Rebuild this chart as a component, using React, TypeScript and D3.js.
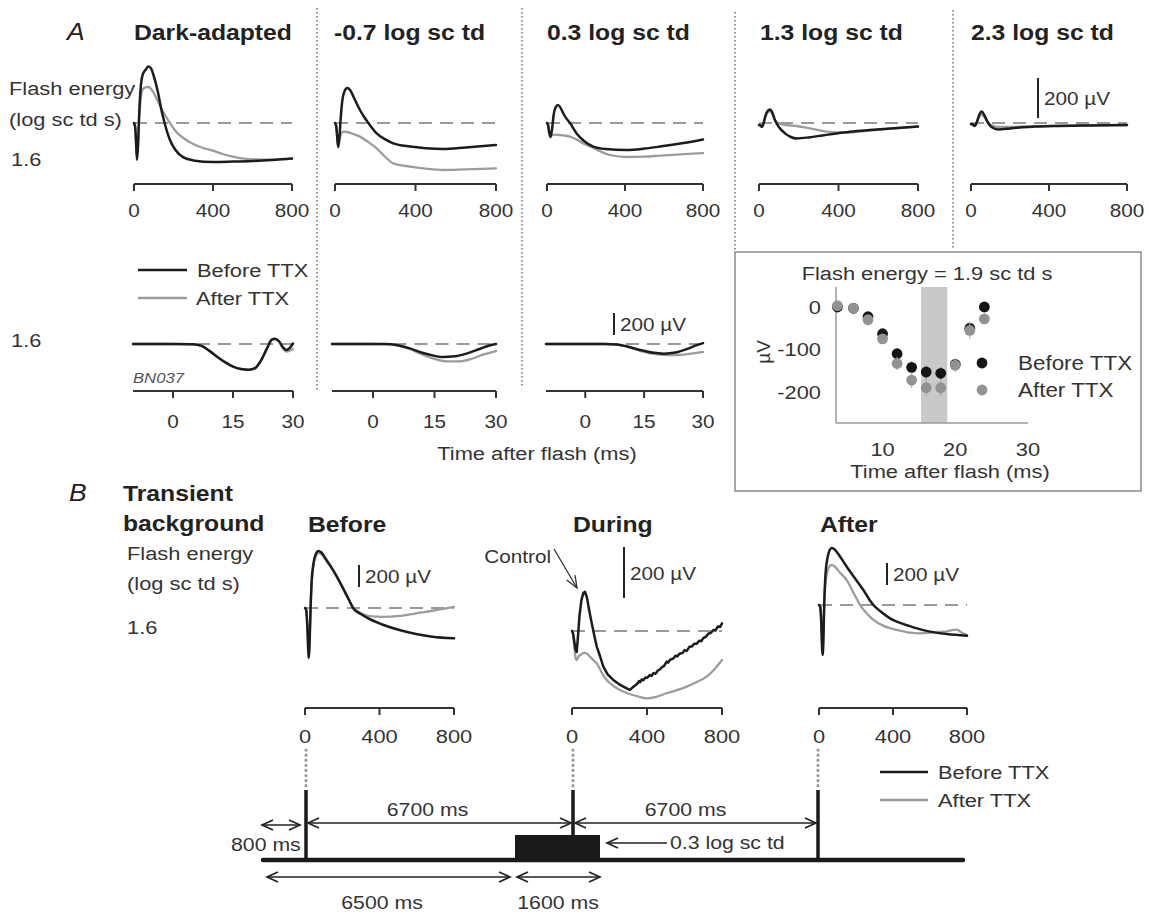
import React from 'react';
import * as d3 from 'd3';

type P = [number, number];

// ---------- Panel A, top row (time ms, µV) ----------
const topTitles = ['Dark-adapted', '-0.7 log sc td', '0.3 log sc td', '1.3 log sc td', '2.3 log sc td'];
const topTicks = [0, 400, 800];

const darkBefore: P[] = [[0,0],[6,-20],[10,-90],[15,-185],[20,-120],[26,40],[35,190],[45,245],[58,265],[72,282],[85,275],[100,235],[120,160],[140,60],[155,0],[180,-80],[210,-135],[250,-172],[300,-187],[400,-195],[500,-193],[600,-190],[700,-185],[800,-178]];
const darkAfter: P[] = [[0,0],[6,-20],[10,-85],[15,-170],[20,-110],[26,20],[35,130],[45,170],[58,178],[72,180],[85,172],[100,150],[120,110],[140,70],[160,35],[182,0],[210,-40],[250,-75],[300,-105],[350,-125],[400,-138],[450,-155],[500,-168],[600,-182],[700,-183],[800,-178]];
const m07Before: P[] = [[0,0],[6,-15],[10,-60],[16,-120],[22,-70],[28,20],[36,110],[48,160],[61,175],[75,165],[95,125],[124,65],[145,30],[166,0],[207,-52],[250,-82],[290,-102],[373,-118],[450,-126],[538,-130],[650,-122],[800,-110]];
const m07After: P[] = [[0,0],[6,-15],[10,-60],[16,-118],[22,-85],[30,-55],[41,-43],[60,-45],[90,-55],[124,-68],[165,-95],[207,-127],[250,-170],[290,-202],[373,-218],[450,-228],[538,-235],[650,-232],[800,-227]];
const m03Before: P[] = [[0,0],[6,-12],[10,-40],[18,-70],[26,-30],[34,40],[45,80],[56,90],[68,78],[85,45],[100,22],[118,0],[152,-52],[190,-90],[237,-118],[300,-130],[409,-135],[500,-128],[579,-118],[700,-100],[800,-82]];
const m03After: P[] = [[0,0],[6,-12],[10,-40],[18,-68],[26,-60],[40,-58],[60,-60],[90,-63],[118,-68],[150,-82],[186,-102],[237,-125],[323,-160],[409,-170],[500,-168],[579,-163],[700,-156],[800,-150]];
const m13Before: P[] = [[0,-10],[8,-12],[14,-20],[22,-5],[32,35],[45,62],[55,68],[66,55],[80,15],[100,-20],[131,-52],[160,-70],[190,-77],[250,-72],[320,-62],[391,-52],[470,-42],[558,-35],[680,-26],[800,-18]];
const m13After: P[] = [[0,-10],[8,-12],[14,-20],[22,-5],[32,30],[45,55],[55,60],[66,45],[80,15],[100,-2],[139,-10],[190,-15],[257,-27],[340,-43],[440,-48],[558,-38],[680,-27],[800,-18]];
const m23Before: P[] = [[0,-5],[10,-8],[20,-15],[30,5],[42,40],[55,57],[68,40],[85,5],[105,-20],[140,-32],[200,-27],[251,-22],[330,-18],[422,-15],[600,-12],[800,-10]];
const m23After: P[] = [[0,-5],[10,-8],[20,-15],[30,2],[42,30],[55,42],[68,30],[85,5],[105,-12],[140,-20],[200,-20],[251,-18],[330,-16],[422,-14],[600,-12],[800,-10]];

// ---------- Panel A, lower row (time ms, µV) ----------
const lowTicks = [0, 15, 30];
const lowDarkBefore: P[] = [[-10,0],[0,0],[5,-3],[7,-15],[9,-60],[11,-115],[13,-165],[15,-205],[17,-228],[19,-235],[20.5,-220],[22,-150],[23.5,-40],[24.7,40],[25.5,48],[26.5,25],[27.5,-30],[28.3,-55],[29.2,-35],[30,5]];
const lowDarkAfter: P[] = [[-10,0],[0,0],[5,-3],[7,-15],[9,-60],[11,-115],[13,-165],[15,-205],[17,-228],[19,-235],[20.5,-220],[22,-150],[23.5,-40],[24.7,38],[25.5,45],[26.5,20],[27.5,-40],[28.5,-68],[30,-45]];
const lowM07Before: P[] = [[-10,0],[0,0],[3,-1],[6,-12],[9,-40],[12,-80],[15,-108],[17,-118],[20,-112],[23,-85],[26,-45],[28,-18],[30,0]];
const lowM07After: P[] = [[-10,0],[0,0],[3,-1],[6,-12],[9,-45],[12,-95],[15,-135],[18,-158],[21,-158],[24,-135],[27,-95],[30,-64]];
const lowM03Before: P[] = [[-10,0],[0,0],[5,0],[8,-5],[11,-25],[14,-55],[17,-78],[20,-88],[23,-78],[26,-45],[28,-15],[30,8]];
const lowM03After: P[] = [[-10,0],[0,0],[5,0],[8,-5],[11,-28],[14,-62],[17,-88],[20,-98],[23,-100],[26,-92],[28,-82],[30,-73]];

// ---------- Inset (Flash energy = 1.9 sc td s) ----------
const insetTimes = [3.8, 6, 8, 10, 12, 14, 16, 18, 20, 22, 24];
const insetBefore = [0, -3, -23, -63, -110, -142, -153, -156, -135, -50, 0];
const insetAfter = [3, -3, -30, -75, -133, -172, -190, -190, -137, -55, -28];
const insetBeforeErr = [4, 5, 6, 8, 12, 14, 15, 15, 12, 12, 8];
const insetAfterErr = [4, 5, 8, 10, 15, 18, 20, 20, 16, 20, 10];
const insetXTicks = [10, 20, 30];
const insetYTicks = [0, -100, -200];
const insetShade = [15.3, 18.9];

// ---------- Panel B (time ms, µV) ----------
const bTitles = ['Before', 'During', 'After'];
const bBeforeBlack: P[] = [[0,0],[6,-15],[12,-150],[18,-400],[21,-455],[25,-300],[30,0],[36,250],[45,400],[58,490],[72,518],[88,505],[110,450],[151,345],[200,195],[230,95],[258,0],[300,-55],[340,-95],[418,-152],[507,-200],[596,-236],[684,-261],[800,-276]];
const bBeforeGray: P[] = [[0,0],[6,-15],[12,-140],[18,-380],[21,-430],[25,-280],[30,0],[36,230],[45,380],[58,470],[72,498],[88,490],[110,440],[151,340],[200,190],[230,90],[262,0],[300,-45],[340,-72],[418,-80],[507,-72],[596,-48],[684,-25],[750,-5],[800,10]];
const bDuringBlack: P[] = [[0,0],[6,-10],[12,-40],[18,-70],[25,-82],[32,-20],[40,60],[50,120],[60,148],[69,154],[80,130],[92,80],[105,31],[118,-15],[132,-61],[150,-100],[167,-140],[190,-170],[220,-192],[250,-208],[274,-218],[295,-226],[309,-231],[322,-222],[335,-215],[350,-205],[358,-196],[363,-201],[372,-190],[380,-193],[392,-182],[400,-184],[415,-173],[425,-176],[434,-165],[445,-168],[458,-155],[470,-150],[480,-142],[490,-138],[505,-120],[512,-124],[525,-112],[540,-108],[552,-97],[560,-100],[576,-88],[590,-86],[600,-75],[612,-78],[625,-63],[640,-60],[652,-50],[665,-50],[678,-38],[690,-40],[700,-28],[715,-22],[728,-10],[740,-8],[754,4],[765,2],[778,18],[790,16],[800,30]];
const bDuringGray: P[] = [[0,0],[6,-15],[12,-60],[18,-100],[25,-114],[35,-100],[50,-92],[65,-86],[78,-88],[95,-100],[115,-115],[132,-127],[160,-165],[185,-192],[220,-215],[256,-231],[300,-245],[345,-255],[398,-264],[450,-258],[505,-244],[560,-232],[612,-218],[665,-200],[718,-179],[760,-150],[800,-114]];
const bAfterBlack: P[] = [[0,0],[6,-15],[12,-150],[17,-400],[20,-455],[24,-300],[28,0],[34,250],[45,420],[58,500],[69,518],[85,505],[110,450],[150,348],[200,230],[240,136],[270,55],[294,0],[330,-55],[384,-121],[450,-170],[510,-203],[600,-242],[690,-264],[800,-279]];
const bAfterGray: P[] = [[0,0],[6,-15],[12,-140],[17,-380],[20,-430],[24,-280],[28,-20],[34,180],[45,300],[58,355],[69,364],[85,350],[110,300],[150,227],[190,100],[222,0],[260,-80],[294,-136],[350,-190],[420,-227],[480,-248],[546,-258],[600,-252],[650,-244],[690,-240],[720,-228],[745,-224],[770,-250],[800,-273]];

// ---------- Timeline (ms) ----------
const tlBreaks = [0, 800, 6500, 7500, 8100, 14200, 17800];
const flashTimes = [800, 7500, 14200];
const bgInterval = [6500, 8100];

const FONT = "'Liberation Sans', Arial, Helvetica, sans-serif";
const SX = 1.15;
const BLACK = '#1c1c1c';
const GRAY = '#9c9c9c';
const TXT = '#333';

function Txt(props: { x: number; y: number; size?: number; weight?: string; italic?: boolean; anchor?: string; fill?: string; children: any }) {
  const { x, y, size = 18, weight = 'normal', italic = false, anchor = 'start', fill = TXT, children } = props;
  return (
    <text transform={`translate(${x},${y}) scale(${SX},1)`} fontSize={size} fontWeight={weight}
      fontStyle={italic ? 'italic' : 'normal'} textAnchor={anchor as any} dy="0.35em" fill={fill} fontFamily={FONT}>
      {children}
    </text>
  );
}

function Trace({ data, x, y, color, width, linear }: any) {
  const line = d3.line<P>().x(d => x(d[0])).y(d => y(d[1])).curve(linear ? d3.curveLinear : d3.curveMonotoneX);
  return <path d={line(data) || ''} fill="none" stroke={color} strokeWidth={width} strokeLinejoin="round" strokeLinecap="round" />;
}

function TracePanel(props: any) {
  const { x0, x1, domain, base, k, axisY, ticks, labelY, before, after, bar, dashFrom, linearBlack, tickSize = 18 } = props;
  const x = d3.scaleLinear().domain(domain).range([x0, x1]);
  const y = d3.scaleLinear().domain([0, 100]).range([base, base - 100 * k]);
  const ds = dashFrom !== undefined ? x(dashFrom) : x0;
  return (
    <g>
      <line x1={ds} x2={x1} y1={y(0)} y2={y(0)} stroke="#9a9a9a" strokeWidth={2} strokeDasharray="13 8" />
      <Trace data={after} x={x} y={y} color={GRAY} width={2.3} />
      <Trace data={before} x={x} y={y} color={BLACK} width={2.5} linear={linearBlack} />
      <line x1={x0} x2={x1} y1={axisY} y2={axisY} stroke="#333" strokeWidth={2} />
      {ticks.map((t: number) => (
        <g key={t}>
          <line x1={x(t)} x2={x(t)} y1={axisY} y2={axisY + 7} stroke="#333" strokeWidth={2} />
          <Txt x={x(t)} y={labelY} anchor="middle" size={tickSize}>{t}</Txt>
        </g>
      ))}
      {bar && (
        <g>
          <line x1={bar.x} x2={bar.x} y1={y(bar.v0)} y2={y(bar.v0 + 200)} stroke="#222" strokeWidth={2} />
          <Txt x={bar.x + 6} y={(y(bar.v0) + y(bar.v0 + 200)) / 2 + 1} size={18}>200 µV</Txt>
        </g>
      )}
    </g>
  );
}

function ArrowHead({ x, y, dir }: { x: number; y: number; dir: number }) {
  return <path d={`M${x - dir * 11},${y - 5} L${x},${y} L${x - dir * 11},${y + 5}`} fill="none" stroke="#222" strokeWidth={1.7} />;
}

function DArrow({ xa, xb, y, left = true, right = true }: any) {
  return (
    <g>
      <line x1={xa} x2={xb} y1={y} y2={y} stroke="#222" strokeWidth={1.7} />
      {left && <ArrowHead x={xa} y={y} dir={-1} />}
      {right && <ArrowHead x={xb} y={y} dir={1} />}
    </g>
  );
}

export default function App() {
  const topPanels = [
    { x0: 134, x1: 292, before: darkBefore, after: darkAfter, tx: 134 },
    { x0: 335, x1: 496, before: m07Before, after: m07After, tx: 334 },
    { x0: 547, x1: 703, before: m03Before, after: m03After, tx: 547 },
    { x0: 759, x1: 918, before: m13Before, after: m13After, tx: 760 },
    { x0: 971, x1: 1127, before: m23Before, after: m23After, tx: 971, bar: { x: 1038, v0: 25 } },
  ];
  const lowPanels = [
    { x0: 133, x1: 293, before: lowDarkBefore, after: lowDarkAfter, dashFrom: 6 },
    { x0: 332, x1: 496, before: lowM07Before, after: lowM07After, dashFrom: 5 },
    { x0: 546, x1: 703, before: lowM03Before, after: lowM03After, dashFrom: 5, bar: { x: 614, v0: 82 } },
  ];
  const bPanels = [
    { x0: 305, x1: 454, base: 608, k: 0.11, before: bBeforeBlack, after: bBeforeGray, tx: 308, bar: { x: 359, v0: 190 } },
    { x0: 572, x1: 722, base: 631, k: 0.255, before: bDuringBlack, after: bDuringGray, tx: 573, bar: { x: 624, v0: 129 }, linearBlack: true },
    { x0: 819, x1: 967, base: 605, k: 0.11, before: bAfterBlack, after: bAfterGray, tx: 820, bar: { x: 887, v0: 182 } },
  ];

  // inset scales
  const ix = d3.scaleLinear().domain([3.6, 30]).range([836, 1028]);
  const iy = d3.scaleLinear().domain([-273, 47]).range([423, 287]);

  // timeline scale
  const tl = d3.scaleLinear().domain(tlBreaks).range([263, 306, 515, 573, 600, 818, 963]);
  const tlY = 860;

  // control arrow
  const tip = [577, 588];
  const tail = [554, 549];
  const ang = Math.atan2(tip[1] - tail[1], tip[0] - tail[0]);
  const wing = (a: number) => [tip[0] - 13 * Math.cos(ang + a), tip[1] - 13 * Math.sin(ang + a)];
  const w1 = wing(0.38), w2 = wing(-0.38);

  return (
    <svg width={1149} height={915} style={{ position: 'absolute', left: 0, top: 0, background: '#fff' }} fontFamily={FONT}>
      <rect width={1149} height={915} fill="#fff" />

      {/* separators */}
      {[[317, 8, 390], [522, 8, 388], [735, 12, 250], [953, 10, 250]].map(([sx, a, b], i) => (
        <line key={i} x1={sx} x2={sx} y1={a} y2={b} stroke="#666" strokeWidth={1.4} strokeDasharray="1.4 2.6" />
      ))}

      {/* Panel A header */}
      <Txt x={67} y={32} size={23} italic fill="#222">A</Txt>
      {topPanels.map((p, i) => (
        <Txt key={i} x={p.tx} y={32} size={21.5} weight="bold" fill="#222">{topTitles[i]}</Txt>
      ))}
      <Txt x={9} y={88} size={19}>Flash energy</Txt>
      <Txt x={9} y={119} size={19}>(log sc td s)</Txt>
      <Txt x={11} y={159} size={19}>1.6</Txt>

      {topPanels.map((p, i) => (
        <TracePanel key={i} x0={p.x0} x1={p.x1} domain={[0, 800]} base={123} k={0.2} axisY={184} ticks={topTicks}
          labelY={211} before={p.before} after={p.after} bar={p.bar} />
      ))}

      {/* lower row legend */}
      <line x1={138} x2={187} y1={270} y2={270} stroke={BLACK} strokeWidth={2.5} />
      <Txt x={197} y={270} size={19}>Before TTX</Txt>
      <line x1={138} x2={187} y1={298} y2={298} stroke={GRAY} strokeWidth={2.5} />
      <Txt x={196} y={298} size={19}>After TTX</Txt>
      <Txt x={11} y={340} size={19}>1.6</Txt>
      <Txt x={133} y={378} size={14.5} italic fill="#555">BN037</Txt>

      {lowPanels.map((p, i) => (
        <TracePanel key={i} x0={p.x0} x1={p.x1} domain={[-10, 30]} base={344} k={0.11} axisY={391} ticks={lowTicks}
          labelY={422} before={p.before} after={p.after} bar={p.bar} dashFrom={p.dashFrom} />
      ))}
      <Txt x={537} y={453} size={19} anchor="middle">Time after flash (ms)</Txt>

      {/* Inset */}
      <rect x={735} y={252} width={406} height={239} fill="none" stroke="#8a8a8a" strokeWidth={1.5} />
      <Txt x={927} y={273} size={19} anchor="middle">Flash energy = 1.9 sc td s</Txt>
      <rect x={ix(insetShade[0])} y={287} width={ix(insetShade[1]) - ix(insetShade[0])} height={423 - 287} fill="#c9c9c9" />
      <line x1={836} x2={836} y1={287} y2={423} stroke="#999" strokeWidth={1.5} />
      <line x1={836} x2={1028} y1={423} y2={423} stroke="#999" strokeWidth={1.5} />
      {insetYTicks.map(v => (
        <Txt key={v} x={821} y={iy(v)} size={19} anchor="end">{v}</Txt>
      ))}
      {insetXTicks.map(v => (
        <Txt key={v} x={ix(v)} y={449} size={19} anchor="middle">{v}</Txt>
      ))}
      <text transform="translate(763,352) rotate(-90)" fontSize={19} textAnchor="middle" dy="0.35em" fill={TXT} fontFamily={FONT}>µV</text>
      <Txt x={950} y={471} size={19} anchor="middle">Time after flash (ms)</Txt>
      {insetTimes.map((t, i) => (
        <g key={'eb' + i}>
          <line x1={ix(t)} x2={ix(t)} y1={iy(insetBefore[i] - insetBeforeErr[i])} y2={iy(insetBefore[i] + insetBeforeErr[i])} stroke="#777" strokeWidth={1.2} />
          <circle cx={ix(t)} cy={iy(insetBefore[i])} r={5.4} fill="#151515" />
        </g>
      ))}
      {insetTimes.map((t, i) => (
        <g key={'ea' + i}>
          <line x1={ix(t)} x2={ix(t)} y1={iy(insetAfter[i] - insetAfterErr[i])} y2={iy(insetAfter[i] + insetAfterErr[i])} stroke="#aaa" strokeWidth={1.2} />
          <circle cx={ix(t)} cy={iy(insetAfter[i])} r={5.4} fill="#929292" />
        </g>
      ))}
      <circle cx={982} cy={363} r={5.4} fill="#151515" />
      <Txt x={1018} y={363} size={19.5}>Before TTX</Txt>
      <circle cx={982} cy={390} r={5.4} fill="#929292" />
      <Txt x={1018} y={390} size={19.5}>After TTX</Txt>

      {/* Panel B header */}
      <Txt x={69} y={493} size={23} italic fill="#222">B</Txt>
      <Txt x={123} y={493} size={21.5} weight="bold" fill="#222">Transient</Txt>
      <Txt x={123} y={523} size={21.5} weight="bold" fill="#222">background</Txt>
      <Txt x={127} y={553} size={19}>Flash energy</Txt>
      <Txt x={127} y={583} size={19}>(log sc td s)</Txt>
      <Txt x={127} y={627} size={19}>1.6</Txt>
      {bPanels.map((p, i) => (
        <Txt key={i} x={p.tx} y={524} size={21.5} weight="bold" fill="#222">{bTitles[i]}</Txt>
      ))}
      {bPanels.map((p, i) => (
        <TracePanel key={i} x0={p.x0} x1={p.x1} domain={[0, 800]} base={p.base} k={p.k} axisY={708} ticks={topTicks}
          labelY={736} before={p.before} after={p.after} bar={p.bar} linearBlack={p.linearBlack} tickSize={19} />
      ))}
      <Txt x={551} y={557} size={18} anchor="end">Control</Txt>
      <line x1={tail[0]} y1={tail[1]} x2={tip[0]} y2={tip[1]} stroke="#333" strokeWidth={1.3} />
      <path d={`M${w1[0]},${w1[1]} L${tip[0]},${tip[1]} L${w2[0]},${w2[1]}`} fill="none" stroke="#333" strokeWidth={1.3} />

      {/* dotted links to timeline */}
      {flashTimes.map((t, i) => (
        <line key={i} x1={tl(t)} x2={tl(t)} y1={750} y2={788} stroke="#9a9a9a" strokeWidth={3.2} strokeDasharray="0.1 5" strokeLinecap="round" />
      ))}

      {/* legend B */}
      <line x1={880} x2={928} y1={772} y2={772} stroke={BLACK} strokeWidth={2.5} />
      <Txt x={938} y={772} size={19}>Before TTX</Txt>
      <line x1={880} x2={928} y1={800} y2={800} stroke={GRAY} strokeWidth={2.5} />
      <Txt x={938} y={800} size={19}>After TTX</Txt>

      {/* timeline */}
      <rect x={tl(bgInterval[0])} y={835} width={tl(bgInterval[1]) - tl(bgInterval[0])} height={tlY - 835} fill="#1a1a1a" />
      <line x1={tl(0)} x2={tl(tlBreaks[tlBreaks.length - 1])} y1={tlY} y2={tlY} stroke="#1a1a1a" strokeWidth={4.5} strokeLinecap="round" />
      {flashTimes.map((t, i) => (
        <line key={i} x1={tl(t)} x2={tl(t)} y1={790} y2={tlY} stroke="#1a1a1a" strokeWidth={3.5} />
      ))}
      <DArrow xa={tl(0) - 1} xb={tl(flashTimes[0]) - 6} y={825} />
      <Txt x={231} y={845} size={18.5}>800 ms</Txt>
      <DArrow xa={tl(flashTimes[0]) + 2} xb={tl(flashTimes[1]) - 2} y={823} />
      <DArrow xa={tl(flashTimes[1]) + 2} xb={tl(flashTimes[2]) - 2} y={823} />
      <Txt x={(tl(flashTimes[0]) + tl(flashTimes[1])) / 2 - 12} y={810} size={18.5} anchor="middle">6700 ms</Txt>
      <Txt x={(tl(flashTimes[1]) + tl(flashTimes[2])) / 2 - 10} y={810} size={18.5} anchor="middle">6700 ms</Txt>
      <DArrow xa={tl(bgInterval[1]) + 7} xb={667} y={843} right={false} />
      <Txt x={670} y={843} size={18.5}>0.3 log sc td</Txt>
      <DArrow xa={tl(0) + 4} xb={tl(bgInterval[0]) - 5} y={877} />
      <DArrow xa={tl(bgInterval[0]) + 2} xb={tl(bgInterval[1])} y={877} />
      <Txt x={382} y={903} size={18.5} anchor="middle">6500 ms</Txt>
      <Txt x={558} y={903} size={18.5} anchor="middle">1600 ms</Txt>
    </svg>
  );
}
